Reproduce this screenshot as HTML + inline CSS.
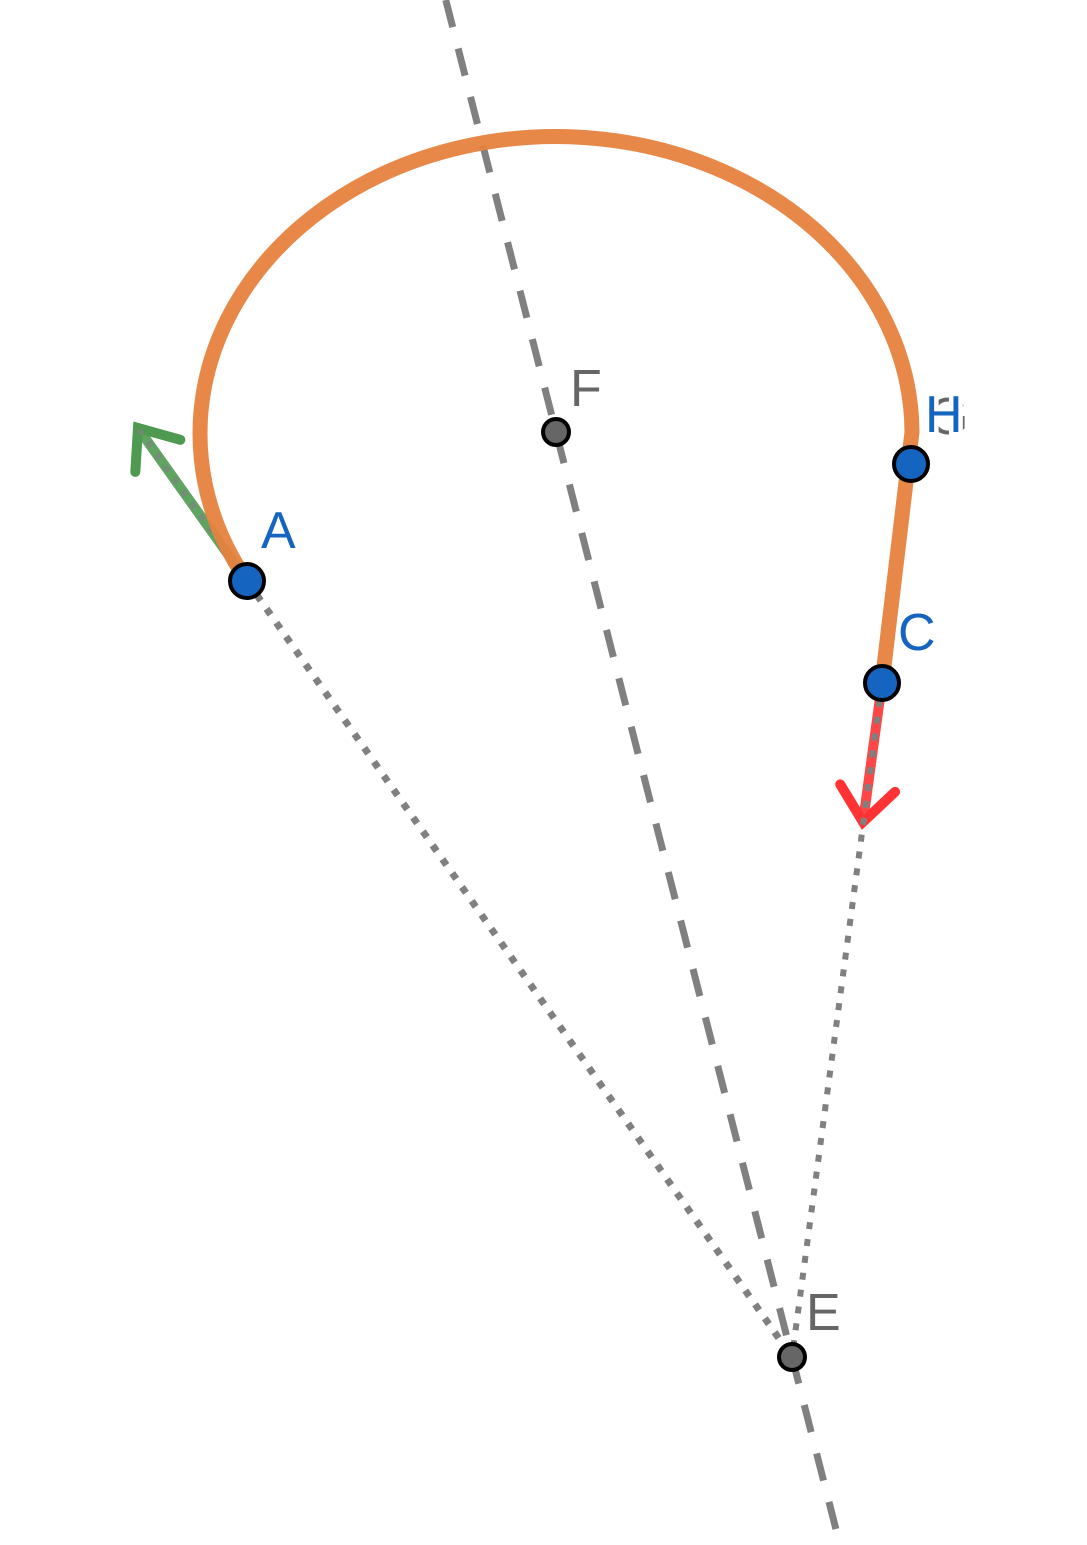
<!DOCTYPE html>
<html><head><meta charset="utf-8"><style>
html,body{margin:0;padding:0;background:#fff;width:1087px;height:1545px;overflow:hidden}
text{font-family:"Liberation Sans",sans-serif;font-size:52px}
</style></head><body>
<svg id="s" width="1087" height="1545" viewBox="0 0 1087 1545" xmlns="http://www.w3.org/2000/svg"></svg>
<script>
const pointNames = ["A","F","H","C","E"];
const pointX = [247,556,911,882,792];
const pointY = [581,432,464,683,1357];
const pointColors = ["#1565C0","#666","#1565C0","#1565C0","#666"];
const ellipseCenter = [556,432];
const ellipseRadii = [356,297];
const arcEnd = [912,432];
const greenTip = [138,428];
const redTip = [863,822];

const NS="http://www.w3.org/2000/svg";
const svg=document.getElementById('s');
function mk(tag,attrs,name){const e=document.createElementNS(NS,tag);for(const k in attrs)e.setAttribute(k,attrs[k]);


svg.appendChild(e);return e;}
const P=n=>{const i=pointNames.indexOf(n);return [pointX[i],pointY[i]];};
const A=P("A"),F=P("F"),C=P("C"),E=P("E");
const k=(E[0]-F[0])/(E[1]-F[1]);
mk('line',{x1:F[0]-k*F[1],y1:0,x2:F[0]+k*(1560-F[1]),y2:1560,stroke:'#808080','stroke-width':7,'stroke-dasharray':'28 22'},'dashed-line-fe');
function arrow(from,to,color,name){
  mk('line',{x1:from[0],y1:from[1],x2:to[0],y2:to[1],stroke:color,'stroke-width':10,'stroke-linecap':'round','stroke-opacity':0.9},name);
  const a=Math.atan2(to[1]-from[1],to[0]-from[0]),L=44,s=0.68;
  const p1=[to[0]-L*Math.cos(a-s),to[1]-L*Math.sin(a-s)],p2=[to[0]-L*Math.cos(a+s),to[1]-L*Math.sin(a+s)];
  mk('polyline',{points:`${p1} ${to} ${p2}`,fill:'none',stroke:color,'stroke-width':10,'stroke-linecap':'round','stroke-linejoin':'miter'},name+'-head');
}
arrow(A,greenTip,'#4E9A50','green-vector');
arrow(C,redTip,'#FF3333','red-vector');
mk('line',{x1:A[0],y1:A[1],x2:E[0],y2:E[1],stroke:'#808080','stroke-width':7,'stroke-dasharray':'7 10'},'dotted-line-ae');
mk('line',{x1:A[0],y1:A[1],x2:greenTip[0],y2:greenTip[1],stroke:'#808080','stroke-width':6,'stroke-dasharray':'6 9','stroke-opacity':0.6},'dotted-overlay-green');
mk('line',{x1:C[0],y1:C[1],x2:E[0],y2:E[1],stroke:'#808080','stroke-width':6,'stroke-dasharray':'7 10'},'dotted-line-ce');
mk('path',{d:`M${A[0]},${A[1]} A${ellipseRadii[0]} ${ellipseRadii[1]} 0 1 1 ${arcEnd[0]},${arcEnd[1]} L${C[0]},${C[1]}`,fill:'none',stroke:'#E6823F','stroke-width':15,'stroke-linecap':'round','stroke-opacity':0.95},'orange-curve');
mk('text',{x:928,y:434,fill:'#666'},'label-g').textContent='G';
const labOff={A:[14,-33],F:[14,-26],H:[14,-32],C:[16,-33],E:[14,-27]};
pointNames.forEach((n,i)=>{
  mk('circle',{cx:pointX[i],cy:pointY[i],r:n==="F"||n==="E"?13:17,fill:pointColors[i],stroke:'#000','stroke-width':4},'point-'+n.toLowerCase());
  const t=mk('text',{x:pointX[i]+labOff[n][0],y:pointY[i]+labOff[n][1],fill:pointColors[i]},'label-'+n.toLowerCase());
  if(n==="H"){t.setAttribute('stroke','#fff');t.setAttribute('stroke-width','9');t.setAttribute('paint-order','stroke');}
  t.textContent=n;
});
</script>
</body></html>
